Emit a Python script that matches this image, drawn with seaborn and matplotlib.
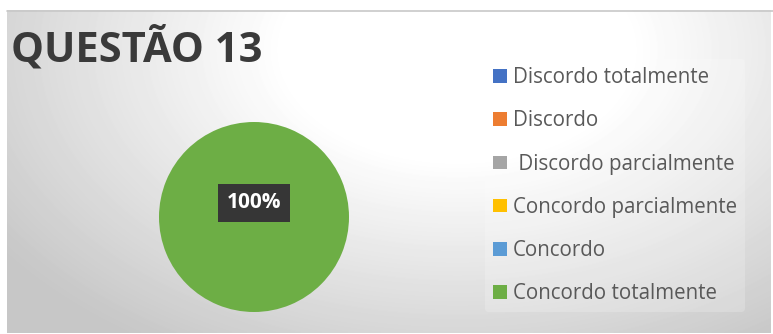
import numpy as np
import matplotlib.pyplot as plt
import seaborn as sns
from matplotlib.lines import Line2D

# respostas da questão 13 (percentual)
categorias = ["Discordo totalmente", "Discordo", " Discordo parcialmente",
              "Concordo parcialmente", "Concordo", "Concordo totalmente"]
valores = [0, 0, 0, 0, 0, 100]
cores = ["#4472C4", "#ED7D31", "#A5A5A5", "#FFC000", "#5B9BD5", "#6DAE45"]
titulo = "QUESTÃO 13"

sns.set_theme(style="white")
plt.rcParams['font.family'] = ['Open Sans', 'DejaVu Sans']

W, H = 773, 334
fig = plt.figure(figsize=(W / 100, H / 100), dpi=100)
fig.patch.set_facecolor("white")

# fundo em degradê
bg = fig.add_axes([7 / W, 1 / H, (W - 9) / W, (H - 11) / H], zorder=0)
yy, xx = np.mgrid[0:323, 0:764]
d = np.sqrt(((xx - 450) / 520.0) ** 2 + ((yy - 40) / 330.0) ** 2)
grad = np.clip(1.1 - 0.3 * d, 0.78, 1.0)
bg.imshow(grad, cmap="gray", vmin=0, vmax=1, aspect="auto", interpolation="bilinear")
bg.axis("off")
fig.add_artist(Line2D([7 / W, 1], [1 - 10.5 / H, 1 - 10.5 / H], color="#c8c8c8", lw=1.2))

ax = fig.add_axes([(254 - 95) / W, (H - 217 - 95) / H, 190 / W, 190 / H], zorder=1)
ax.set_facecolor("none")
wedges, textos, pcts = ax.pie(
    valores, colors=cores, startangle=-90, counterclock=True,
    autopct=lambda p: f"{p:.0f}%" if p > 0 else "", pctdistance=0.15,
    wedgeprops=dict(linewidth=0))
for t in pcts:
    t.set_color("white")
    t.set_fontweight("bold")
    t.set_fontsize(15)
    t.set_bbox(dict(boxstyle="square,pad=0.42", facecolor="#363636", edgecolor="none"))
ax.set_xlim(-1, 1)
ax.set_ylim(-1, 1)
ax.set_aspect("equal")

fig.text(11 / W, 1 - 61 / H, titulo, fontsize=30, fontweight="bold", color="#3a3a3a",
         family=['Open Sans', 'DejaVu Sans'])

leg = fig.legend(wedges, categorias, loc="upper left", bbox_to_anchor=(485 / W, 1 - 59 / H),
                 frameon=True, fontsize=14.8, handlelength=0.65, handleheight=0.65,
                 handletextpad=0.3, labelspacing=1.08, borderaxespad=0, borderpad=0.4)
leg.get_frame().set_facecolor("white")
leg.get_frame().set_alpha(0.2)
leg.get_frame().set_edgecolor("none")
for t in leg.get_texts():
    t.set_color("#595959")

fig.savefig("out.png", dpi=100)
